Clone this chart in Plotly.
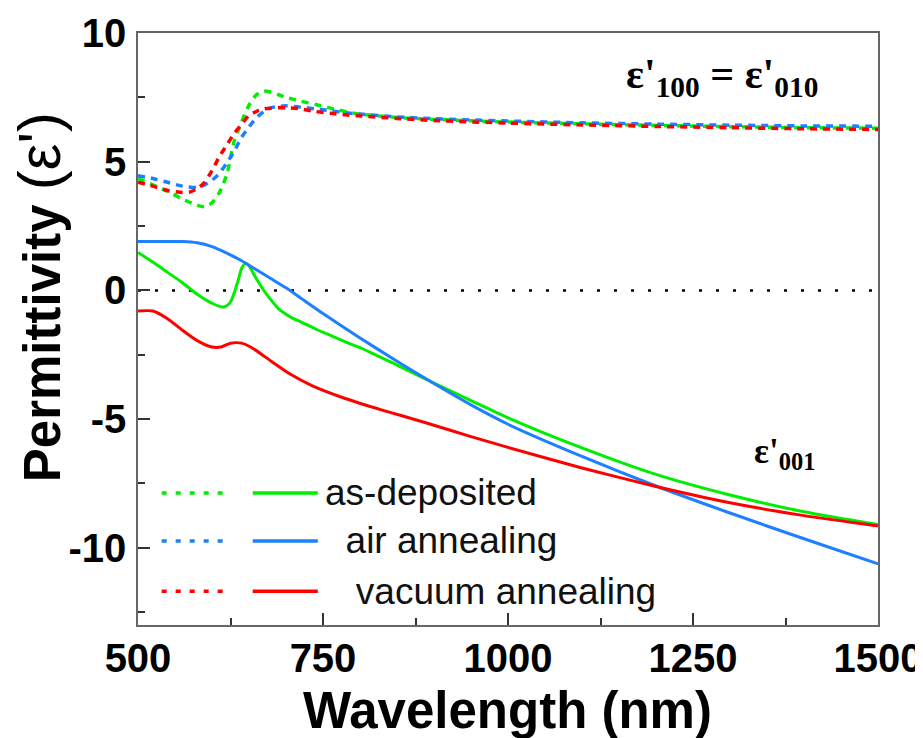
import plotly.graph_objects as go

# ---------------- data ----------------
# epsilon'_100 (dashed curves)
wl_as_d = [500, 520, 540, 560, 580, 590, 600, 610, 620, 630, 640, 650, 660, 670, 680, 690, 700, 720, 740, 760, 780, 800, 850, 900, 1000, 1100, 1200, 1300, 1400, 1500]
eps100_as = [4.35, 4.1, 3.85, 3.55, 3.3, 3.25, 3.4, 3.8, 4.5, 5.8, 6.55, 7.2, 7.6, 7.75, 7.7, 7.6, 7.5, 7.35, 7.22, 7.08, 6.95, 6.85, 6.72, 6.64, 6.54, 6.47, 6.41, 6.36, 6.32, 6.3]

wl_air_d = [500, 520, 540, 560, 580, 590, 600, 610, 620, 630, 640, 650, 660, 670, 680, 690, 700, 720, 740, 760, 780, 800, 850, 900, 1000, 1100, 1200, 1300, 1400, 1500]
eps100_air = [4.45, 4.35, 4.2, 4.05, 4.0, 4.1, 4.28, 4.55, 4.95, 5.4, 5.95, 6.35, 6.7, 6.95, 7.1, 7.15, 7.17, 7.12, 7.05, 6.98, 6.9, 6.85, 6.74, 6.67, 6.58, 6.51, 6.46, 6.42, 6.39, 6.38]

wl_vac_d = [500, 520, 540, 560, 570, 580, 590, 600, 610, 620, 630, 640, 650, 660, 670, 680, 700, 720, 740, 760, 780, 800, 850, 900, 1000, 1100, 1200, 1300, 1400, 1500]
eps100_vac = [4.2, 4.05, 3.88, 3.8, 3.82, 3.95, 4.2, 4.65, 5.2, 5.65, 6.1, 6.45, 6.8, 6.95, 7.05, 7.08, 7.1, 7.05, 6.95, 6.88, 6.82, 6.78, 6.68, 6.6, 6.5, 6.43, 6.37, 6.32, 6.28, 6.25]

# epsilon'_001 (solid curves)
wl_as_s = [500, 520, 540, 560, 580, 600, 615, 620, 625, 630, 635, 640, 645, 650, 660, 670, 680, 690, 700, 710, 720, 740, 760, 780, 800, 850, 900, 950, 1000, 1100, 1200, 1300, 1400, 1500]
eps001_as = [1.47, 1.1, 0.7, 0.3, -0.15, -0.5, -0.65, -0.6, -0.45, -0.1, 0.35, 0.85, 1.05, 0.95, 0.45, 0.0, -0.38, -0.72, -0.93, -1.1, -1.22, -1.5, -1.75, -2.0, -2.22, -2.9, -3.6, -4.28, -4.95, -6.12, -7.15, -7.95, -8.6, -9.1]

wl_air_s = [500, 520, 540, 560, 580, 600, 620, 640, 660, 680, 700, 720, 750, 800, 850, 900, 950, 1000, 1100, 1200, 1300, 1400, 1500]
eps001_air = [1.9, 1.9, 1.9, 1.9, 1.85, 1.7, 1.45, 1.15, 0.8, 0.45, 0.1, -0.3, -0.9, -1.85, -2.75, -3.62, -4.45, -5.2, -6.45, -7.6, -8.65, -9.65, -10.62]

wl_vac_s = [500, 520, 540, 560, 580, 600, 612, 625, 640, 655, 680, 705, 735, 780, 830, 890, 950, 1000, 1100, 1200, 1300, 1400, 1500]
eps001_vac = [-0.8, -0.8, -1.1, -1.55, -1.95, -2.2, -2.2, -2.05, -2.05, -2.25, -2.75, -3.24, -3.7, -4.2, -4.65, -5.15, -5.68, -6.1, -6.9, -7.62, -8.25, -8.75, -9.15]

zero_wl = [500, 1500]
zero_val = [0, 0]

series_names = ["as-deposited", "air annealing", "vacuum annealing"]
series_labels = ["as-deposited", "\u00a0\u00a0air annealing", "\u00a0\u00a0\u00a0vacuum annealing"]
colors = ["#00EE00", "#1E7FFF", "#FF0000"]

x_ticks = [500, 750, 1000, 1250, 1500]
y_ticks = [-10, -5, 0, 5, 10]

# ---------------- figure ----------------
fig = go.Figure()

fig.add_trace(go.Scatter(x=zero_wl, y=zero_val, mode="lines",
                         line=dict(color="black", width=2.5, dash="3px,14px"),
                         showlegend=False, hoverinfo="skip"))

dashed = [(wl_as_d, eps100_as), (wl_air_d, eps100_air), (wl_vac_d, eps100_vac)]
solid = [(wl_as_s, eps001_as), (wl_air_s, eps001_air), (wl_vac_s, eps001_vac)]

for (x, y), c, n in zip(dashed, colors, series_names):
    fig.add_trace(go.Scatter(x=x, y=y, mode="lines", name=n + " ε'100",
                             line=dict(color=c, width=3.5, dash="7px,6px", shape="spline", smoothing=0.6),
                             showlegend=False))
for (x, y), c, n in zip(solid, colors, series_names):
    fig.add_trace(go.Scatter(x=x, y=y, mode="lines", name=n + " ε'001",
                             line=dict(color=c, width=3, shape="spline", smoothing=0.6),
                             showlegend=False))

# custom legend (dashed sample, solid sample, label)
legend_y = [0.223, 0.142, 0.057]
shapes = []
annotations = []
for ly, c, lab in zip(legend_y, colors, series_labels):
    shapes.append(dict(type="line", xref="paper", yref="paper", x0=0.032, x1=0.118, y0=ly, y1=ly,
                       line=dict(color=c, width=3.5, dash="5px,9px")))
    shapes.append(dict(type="line", xref="paper", yref="paper", x0=0.155, x1=0.243, y0=ly, y1=ly,
                       line=dict(color=c, width=3.5)))
    annotations.append(dict(xref="paper", yref="paper", x=0.25, y=ly, xanchor="left", yanchor="middle",
                            text=lab, showarrow=False,
                            font=dict(family="Liberation Sans, Arial", size=37, color="#111111")))

annotations.append(dict(xref="paper", yref="paper", x=0.9216, y=0.925, xanchor="right", yanchor="middle",
                        text="<b>ε'<sub>100</sub> = ε'<sub>010</sub></b>", showarrow=False,
                        font=dict(family="Liberation Serif, Times New Roman", size=42, color="black")))
annotations.append(dict(xref="paper", yref="paper", x=0.873, y=0.29, xanchor="center", yanchor="middle",
                        text="<b>ε'<sub>001</sub></b>", showarrow=False,
                        font=dict(family="Liberation Serif, Times New Roman", size=35, color="black")))

# axis titles as annotations for exact placement
annotations.append(dict(xref="paper", yref="paper", x=0.499, y=-0.1436, xanchor="center", yanchor="middle",
                        text="<b>Wavelength (nm)</b>", showarrow=False,
                        font=dict(family="Liberation Sans, Arial", size=51, color="black")))
annotations.append(dict(xref="paper", yref="paper", x=-0.133, y=0.553, xanchor="center", yanchor="middle",
                        text="<b>Permittivity</b> <span style='font-size:60px'>(ε')</span>",
                        showarrow=False, textangle=-90,
                        font=dict(family="Liberation Sans, Arial", size=51, color="black")))

fig.update_layout(
    width=915, height=730,
    margin=dict(l=130, r=45, t=25, b=113),
    paper_bgcolor="white", plot_bgcolor="white",
    shapes=shapes, annotations=annotations,
    font=dict(family="Liberation Sans, Arial", color="black"),
)

fig.update_xaxes(
    range=[500, 1500], tickvals=x_ticks, ticktext=[str(v) for v in x_ticks],
    ticks="inside", ticklen=12, tickwidth=1.5, tickcolor="#333333",
    minor=dict(ticks="inside", ticklen=7, tickwidth=1.5, tickcolor="#333333", dtick=125, tick0=500),
    showline=True, linecolor="#666666", linewidth=1.5, mirror=True,
    showgrid=False, zeroline=False, automargin=False, ticklabelstandoff=-3,
    tickfont=dict(family="Liberation Sans, Arial", size=40, color="black", weight="bold"),
)
fig.update_yaxes(
    range=[-13, 10], tickvals=y_ticks, ticktext=[str(v) for v in y_ticks],
    ticks="inside", ticklen=12, tickwidth=1.5, tickcolor="#333333",
    minor=dict(ticks="inside", ticklen=7, tickwidth=1.5, tickcolor="#333333", dtick=2.5, tick0=0),
    showline=True, linecolor="#666666", linewidth=1.5, mirror=True,
    showgrid=False, zeroline=False, automargin=False, ticklabelstandoff=2,
    tickfont=dict(family="Liberation Sans, Arial", size=40, color="black", weight="bold"),
)

fig.write_html("out.html")
